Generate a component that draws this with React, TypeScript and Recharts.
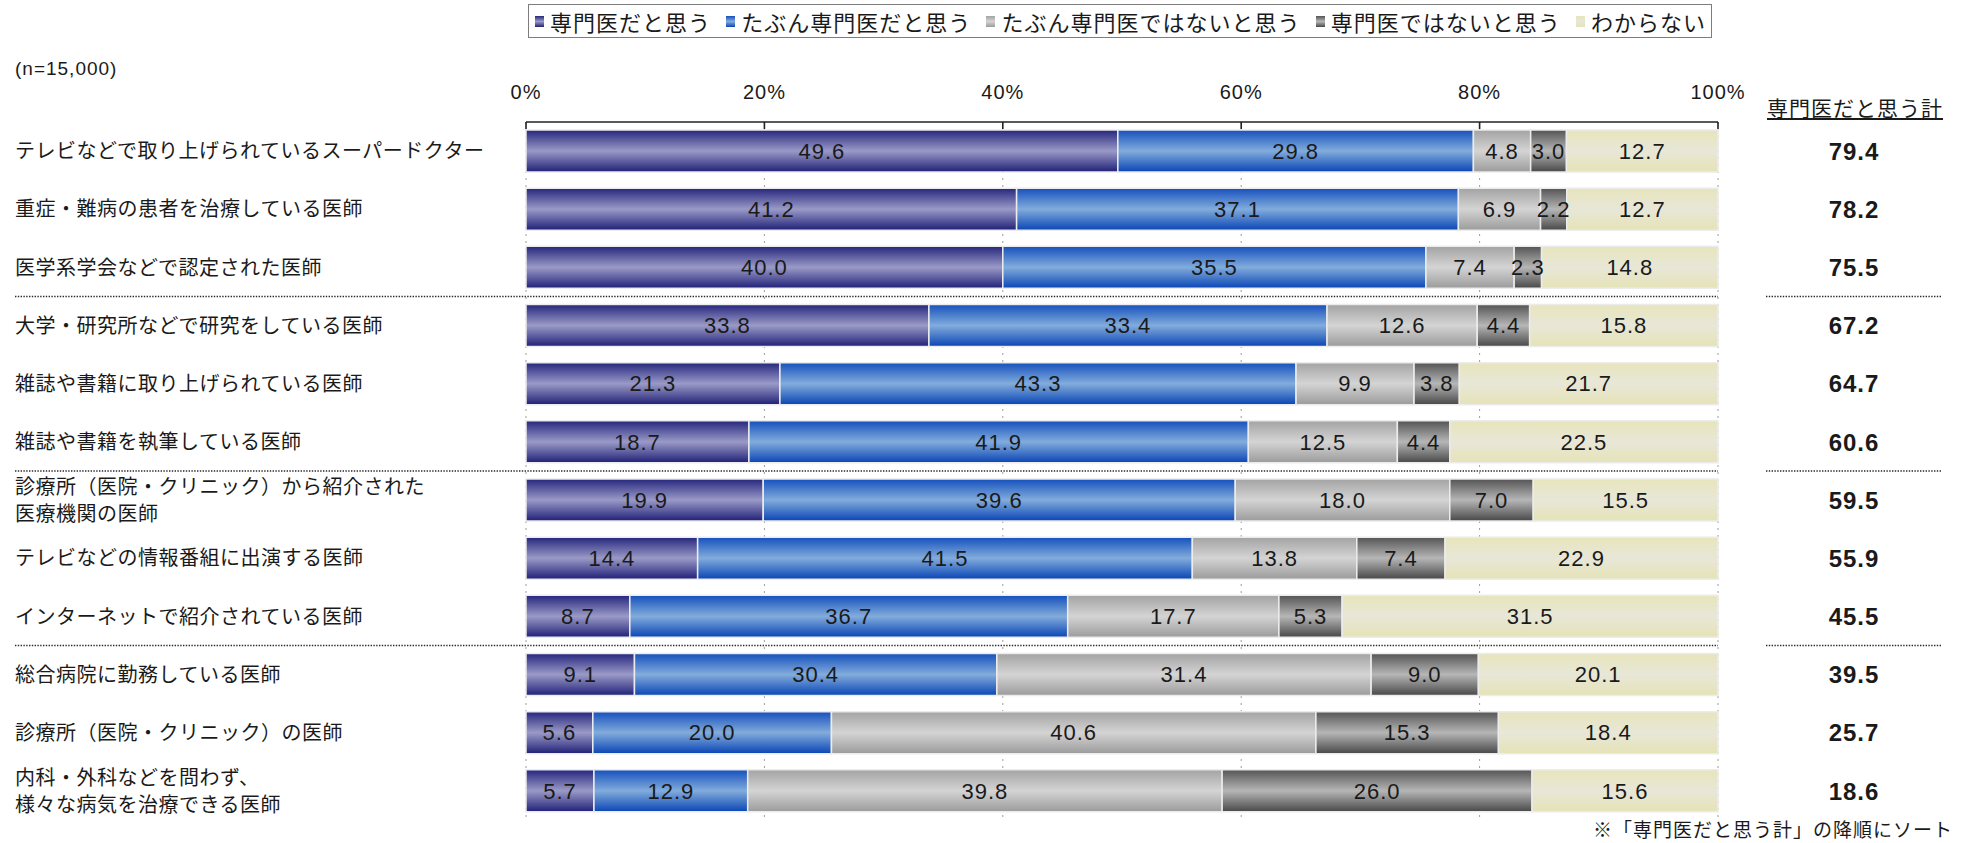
import { BarChart, Bar, XAxis, YAxis, CartesianGrid, LabelList } from "recharts";

// survey rows, top to bottom
const CATEGORIES = [
  "テレビなどで取り上げられているスーパードクター",
  "重症・難病の患者を治療している医師",
  "医学系学会などで認定された医師",
  "大学・研究所などで研究をしている医師",
  "雑誌や書籍に取り上げられている医師",
  "雑誌や書籍を執筆している医師",
  "診療所（医院・クリニック）から紹介された\n医療機関の医師",
  "テレビなどの情報番組に出演する医師",
  "インターネットで紹介されている医師",
  "総合病院に勤務している医師",
  "診療所（医院・クリニック）の医師",
  "内科・外科などを問わず、\n様々な病気を治療できる医師",
];

const SURE = [49.6, 41.2, 40.0, 33.8, 21.3, 18.7, 19.9, 14.4, 8.7, 9.1, 5.6, 5.7];
const PROBABLY = [29.8, 37.1, 35.5, 33.4, 43.3, 41.9, 39.6, 41.5, 36.7, 30.4, 20.0, 12.9];
const PROBABLY_NOT = [4.8, 6.9, 7.4, 12.6, 9.9, 12.5, 18.0, 13.8, 17.7, 31.4, 40.6, 39.8];
const NOT = [3.0, 2.2, 2.3, 4.4, 3.8, 4.4, 7.0, 7.4, 5.3, 9.0, 15.3, 26.0];
const UNSURE = [12.7, 12.7, 14.8, 15.8, 21.7, 22.5, 15.5, 22.9, 31.5, 20.1, 18.4, 15.6];
const TOTALS = [79.4, 78.2, 75.5, 67.2, 64.7, 60.6, 59.5, 55.9, 45.5, 39.5, 25.7, 18.6];

const SERIES_NAMES = [
  "専門医だと思う",
  "たぶん専門医だと思う",
  "たぶん専門医ではないと思う",
  "専門医ではないと思う",
  "わからない",
];
const X_TICKS = [0, 0.2, 0.4, 0.6, 0.8, 1];
// rows that open a new group get a dotted rule above them
const GROUP_STARTS = [3, 6, 9];

const SERIES = [
  { key: "sure", stops: ["#26267e", "#9a9ac7", "#202078"] },
  { key: "probably", stops: ["#1550bd", "#82acdc", "#0a45b5"] },
  { key: "probablyNot", stops: ["#a3a3a3", "#d4d4d4", "#9b9b9b"] },
  { key: "not", stops: ["#545454", "#b6b6b6", "#484848"] },
  { key: "unsure", stops: ["#e7e5bb", "#e8e7d8", "#e5e3b6"] },
];

const rows = CATEGORIES.map((name, i) => ({
  name,
  sure: SURE[i],
  probably: PROBABLY[i],
  probablyNot: PROBABLY_NOT[i],
  not: NOT[i],
  unsure: UNSURE[i],
}));

const FONT = '"Liberation Sans", Arial, "Noto Sans CJK JP", sans-serif';
const WIDTH = 1968;
const HEIGHT = 843;
const PLOT_LEFT = 526;
const PLOT_RIGHT = 1718;
const PLOT_TOP = 122;
const PLOT_BOTTOM = 820;
const BAND = (PLOT_BOTTOM - PLOT_TOP) / CATEGORIES.length;
const TOTAL_X = 1854;

function PercentTick(props: any) {
  const { x, payload } = props;
  return (
    <text
      x={x}
      y={99}
      textAnchor="middle"
      fontSize={20}
      letterSpacing={1}
      fill="#1a1a1a"
      fontFamily={FONT}
    >
      {Math.round(payload.value * 100)}%
    </text>
  );
}

function CategoryTick(props: any) {
  const { y, payload } = props;
  const index = CATEGORIES.indexOf(payload.value);
  const lines = String(payload.value).split("\n");
  const lineHeight = 27;
  const first = y - ((lines.length - 1) * lineHeight) / 2;
  const ruleY = y - BAND / 2;
  return (
    <g>
      {GROUP_STARTS.includes(index) && (
        <g stroke="#2a2a2a" strokeWidth={1.6} strokeDasharray="1.4 1.4">
          <line x1={15} x2={PLOT_RIGHT} y1={ruleY} y2={ruleY} />
          <line x1={1766} x2={1942} y1={ruleY} y2={ruleY} />
        </g>
      )}
      <text fontSize={20} letterSpacing={0.5} fill="#1a1a1a" fontFamily={FONT}>
        {lines.map((line, k) => (
          <tspan key={k} x={15} y={first + k * lineHeight} dy="0.36em">
            {line}
          </tspan>
        ))}
      </text>
      <text
        x={TOTAL_X}
        y={y}
        dy="0.36em"
        textAnchor="middle"
        fontSize={24}
        fontWeight="bold"
        letterSpacing={1}
        fill="#1a1a1a"
        fontFamily={FONT}
      >
        {TOTALS[index].toFixed(1)}
      </text>
    </g>
  );
}

function LegendBox() {
  return (
    <div
      style={{
        position: "absolute",
        left: 528,
        top: 4,
        width: 1184,
        height: 34,
        boxSizing: "border-box",
        border: "1.5px solid #7d7d7d",
        display: "flex",
        alignItems: "center",
        justifyContent: "space-between",
        padding: "0 5px 0 6px",
        fontFamily: FONT,
        fontSize: 22,
        letterSpacing: 1,
        color: "#1a1a1a",
      }}
    >
      {SERIES.map((s, i) => (
        <div key={s.key} style={{ display: "flex", alignItems: "center" }}>
          <span
            style={{
              width: 9,
              height: 11,
              marginRight: 6,
              background: `linear-gradient(to bottom, ${s.stops[0]}, ${s.stops[1]}, ${s.stops[2]})`,
            }}
          />
          <span>{SERIES_NAMES[i]}</span>
        </div>
      ))}
    </div>
  );
}

export default function App() {
  return (
    <div
      style={{
        position: "absolute",
        left: 0,
        top: 0,
        width: WIDTH,
        height: HEIGHT,
        overflow: "hidden",
        background: "#ffffff",
        fontFamily: FONT,
      }}
    >
      <BarChart
        width={WIDTH}
        height={HEIGHT}
        data={rows}
        layout="vertical"
        stackOffset="expand"
        barSize={42}
        margin={{ top: 0, right: WIDTH - PLOT_RIGHT, bottom: HEIGHT - PLOT_BOTTOM, left: 0 }}
      >
        <defs>
          {SERIES.map((s) => (
            <linearGradient key={s.key} id={`grad-${s.key}`} x1="0" y1="0" x2="0" y2="1">
              <stop offset="0%" stopColor={s.stops[0]} />
              <stop offset="50%" stopColor={s.stops[1]} />
              <stop offset="100%" stopColor={s.stops[2]} />
            </linearGradient>
          ))}
        </defs>
        <CartesianGrid horizontal={false} stroke="#9c9c9c" strokeDasharray="2 5" />
        <XAxis
          type="number"
          orientation="top"
          domain={[0, 1]}
          ticks={X_TICKS}
          interval={0}
          height={PLOT_TOP}
          axisLine={{ stroke: "#222", strokeWidth: 1.6 }}
          tickLine={{ stroke: "#222", strokeWidth: 1.6 }}
          tickSize={-7}
          tick={PercentTick}
        />
        <YAxis
          type="category"
          dataKey="name"
          width={PLOT_LEFT}
          interval={0}
          axisLine={false}
          tickLine={false}
          tick={CategoryTick}
        />
        {SERIES.map((s) => (
          <Bar
            key={s.key}
            dataKey={s.key}
            stackId="share"
            fill={`url(#grad-${s.key})`}
            stroke="#ececec"
            strokeWidth={1.5}
            isAnimationActive={false}
          >
            <LabelList
              dataKey={s.key}
              position="center"
              formatter={(v: any) => Number(v).toFixed(1)}
              fill="#1a1a1a"
              fontSize={22}
              letterSpacing={1}
              fontFamily={FONT}
            />
          </Bar>
        ))}
      </BarChart>

      <LegendBox />

      <div
        style={{
          position: "absolute",
          left: 15,
          top: 57,
          fontSize: 19,
          letterSpacing: 1,
          lineHeight: "24px",
          color: "#1a1a1a",
        }}
      >
        (n=15,000)
      </div>

      <div
        style={{
          position: "absolute",
          left: 1760,
          width: 190,
          top: 96,
          textAlign: "center",
          fontSize: 21,
          letterSpacing: 1,
          lineHeight: "26px",
          textDecoration: "underline",
          color: "#1a1a1a",
        }}
      >
        専門医だと思う計
      </div>

      <div
        style={{
          position: "absolute",
          right: 15,
          top: 820,
          fontSize: 19,
          letterSpacing: 1,
          lineHeight: "22px",
          color: "#1a1a1a",
        }}
      >
        ※「専門医だと思う計」の降順にソート
      </div>
    </div>
  );
}
